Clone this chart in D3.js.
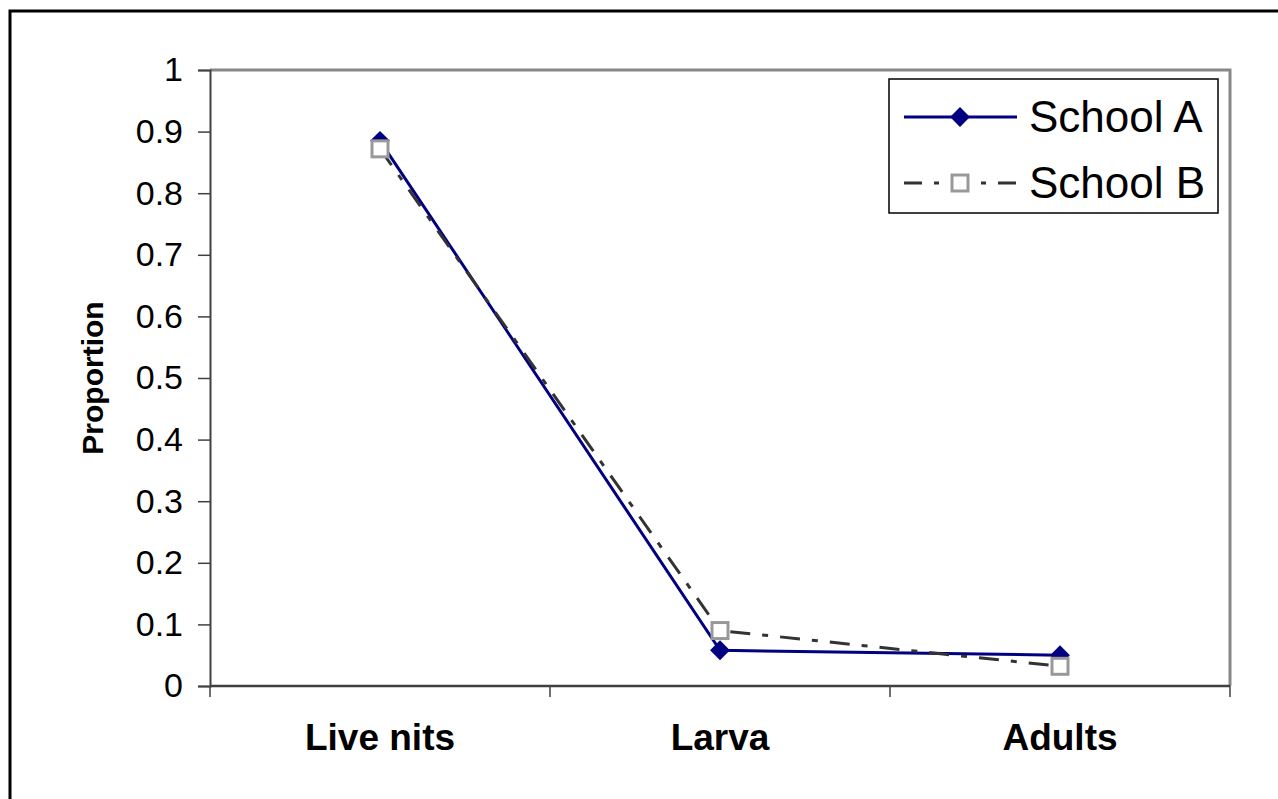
<!DOCTYPE html>
<html><head><meta charset="utf-8">
<script src="https://cdn.jsdelivr.net/npm/d3@7"></script>
<style>body{margin:0;background:#fff}svg{display:block}text{font-family:"Liberation Sans",Arial,sans-serif}</style>
</head><body><svg id="c" width="1278" height="799"></svg>
<script>
const categories = ["Live nits", "Larva", "Adults"];
const schoolA = [0.885, 0.058, 0.050];
const schoolB = [0.872, 0.090, 0.032];
const yTicks = [0, 0.1, 0.2, 0.3, 0.4, 0.5, 0.6, 0.7, 0.8, 0.9, 1];
const seriesNames = ["School A", "School B"];

const svg = d3.select("#c");
const L = 210, R = 1230, T = 70, B = 686;
const x = d3.scaleBand().domain(categories).range([L, R]).padding(0);
const y = d3.scaleLinear().domain([0, 1]).range([B, T]);
const cx = c => x(c) + x.bandwidth() / 2;

// outer frame
svg.append("rect").attr("x", 10).attr("y", 11).attr("width", 1300).attr("height", 820)
  .attr("fill", "none").attr("stroke", "#000").attr("stroke-width", 3);

// plot area border (top/right gray)
svg.append("path").attr("d", `M${L},${T}H${R}V${B}`).attr("fill", "none")
  .attr("stroke", "#888").attr("stroke-width", 3);

// y axis
const yAxis = d3.axisLeft(y).tickValues(yTicks).tickSize(12).tickPadding(15).tickFormat(d => d3.format("")(d));
const gy = svg.append("g").attr("transform", `translate(${L},0)`).call(yAxis);
gy.select(".domain").attr("stroke", "#404040").attr("stroke-width", 2);
gy.selectAll(".tick line").attr("stroke", "#404040").attr("stroke-width", 1.5);
gy.selectAll(".tick text").attr("font-size", 34).attr("fill", "#000")
  .attr("font-family", "Liberation Sans, Arial, sans-serif");

// x axis
const gx = svg.append("g").attr("transform", `translate(0,${B})`);
gx.append("line").attr("x1", L).attr("x2", R).attr("stroke", "#404040").attr("stroke-width", 2.5);
const bounds = categories.map(c => x(c)).concat([R]);
gx.selectAll("line.tk").data(bounds).join("line").attr("class", "tk")
  .attr("x1", d => d).attr("x2", d => d).attr("y1", 0).attr("y2", 11)
  .attr("stroke", "#404040").attr("stroke-width", 1.5);
gx.selectAll("text").data(categories).join("text")
  .attr("x", d => cx(d)).attr("y", 64).attr("text-anchor", "middle")
  .attr("font-size", 37).attr("font-weight", "bold").text(d => d);

// y title
svg.append("text").attr("transform", `translate(103,${(T + B) / 2}) rotate(-90)`)
  .attr("text-anchor", "middle").attr("font-size", 30).attr("font-weight", "bold").text("Proportion");

const line = d3.line().x((d, i) => cx(categories[i])).y(d => y(d));

// School A
svg.append("path").datum(schoolA).attr("d", line).attr("fill", "none")
  .attr("stroke", "#000080").attr("stroke-width", 3);
svg.selectAll("path.mA").data(schoolA).join("path").attr("class", "mA")
  .attr("d", d3.symbol().type(d3.symbolSquare).size(196))
  .attr("transform", (d, i) => `translate(${cx(categories[i])},${y(d)}) rotate(45)`)
  .attr("fill", "#000080");

// School B
const dashB = "20,12,6,12";
svg.append("path").datum(schoolB).attr("d", line).attr("fill", "none")
  .attr("stroke", "#333").attr("stroke-width", 3).attr("stroke-dasharray", dashB);
svg.selectAll("rect.mB").data(schoolB).join("rect").attr("class", "mB")
  .attr("x", (d, i) => cx(categories[i]) - 8).attr("y", d => y(d) - 8)
  .attr("width", 16).attr("height", 16)
  .attr("fill", "#fff").attr("stroke", "#999").attr("stroke-width", 3);

// legend
const lg = svg.append("g");
lg.append("rect").attr("x", 889).attr("y", 79).attr("width", 329).attr("height", 134)
  .attr("fill", "#fff").attr("stroke", "#000").attr("stroke-width", 1.5);
const rows = [117, 183];
seriesNames.forEach((n, i) => {
  const yy = rows[i];
  if (i === 0) {
    lg.append("line").attr("x1", 904).attr("x2", 1017).attr("y1", yy).attr("y2", yy)
      .attr("stroke", "#000080").attr("stroke-width", 3);
    lg.append("path").attr("d", d3.symbol().type(d3.symbolSquare).size(196))
      .attr("transform", `translate(960,${yy}) rotate(45)`).attr("fill", "#000080");
  } else {
    lg.append("line").attr("x1", 904).attr("x2", 1017).attr("y1", yy).attr("y2", yy)
      .attr("stroke", "#333").attr("stroke-width", 3).attr("stroke-dasharray", "18,12,5,12");
    lg.append("rect").attr("x", 952).attr("y", yy - 8).attr("width", 16).attr("height", 16)
      .attr("fill", "#fff").attr("stroke", "#999").attr("stroke-width", 3);
  }
  lg.append("text").attr("x", 1029).attr("y", yy + 15).attr("font-size", 44).text(n);
});
</script></body></html>
